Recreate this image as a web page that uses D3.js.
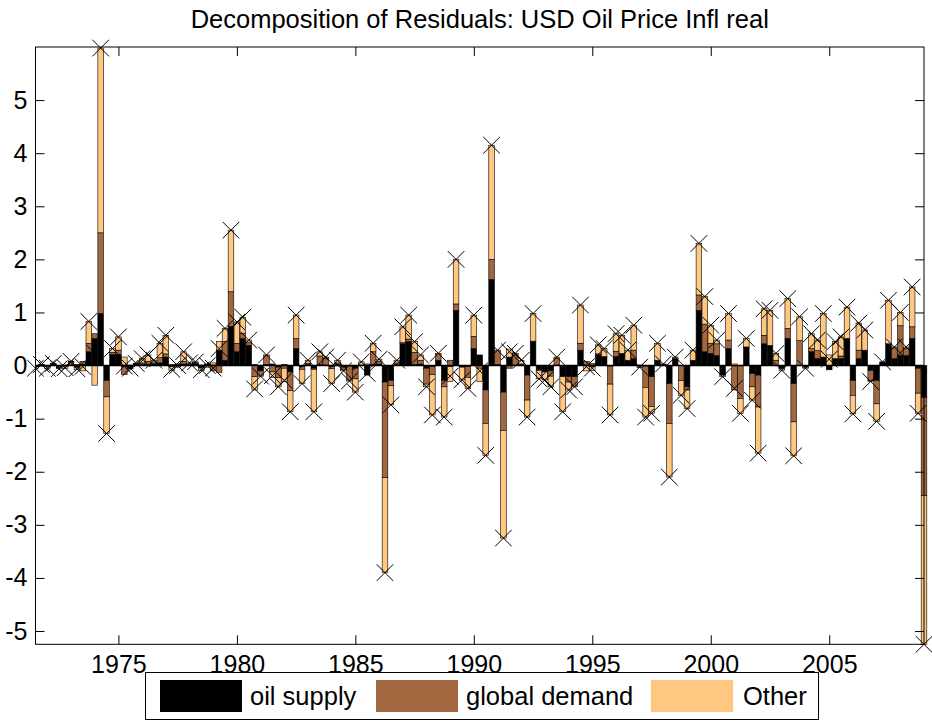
<!DOCTYPE html>
<html><head><meta charset="utf-8">
<script src="https://cdn.jsdelivr.net/npm/d3@7"></script>
<style>
body{margin:0;background:#fff}
svg{display:block}
text{font-family:"Liberation Sans",Arial,Helvetica,sans-serif;fill:#000}
</style>
</head><body>
<svg id="chart" width="932" height="722"></svg>
<script>
// ---------------- DATA ----------------
const chartTitle = "Decomposition of Residuals: USD Oil Price Infl real";
const seriesNames = ["oil supply", "global demand", "Other"];
const firstQuarter = 1971.5;   // first observation (year + quarter/4)
const lastQuarter = 2009.0;    // last observation
const xTickLabels = [1975, 1980, 1985, 1990, 1995, 2000, 2005];
const yTickLabels = [-5, -4, -3, -2, -1, 0, 1, 2, 3, 4, 5];
const yLimits = [-5.25, 6];

const oilSupply = [
 0, 0.01, -0.02, 0.02, -0.02, 0.01, 0.01, -0.03, 0.02, 0.26,
 0.51, 0.98, -0.28, 0.21, 0.21, -0.02, -0.06, 0.01, 0.02, 0.02,
 0.03, 0.05, 0.16, -0.02, 0.02, 0.03, 0.02, 0.03, -0.04, 0.02,
 0.01, 0.29, 0.1, 0.74, 0.26, 0.51, 0.38, 0.02, -0.1, 0.02,
 0.03, -0.03, 0.02, -0.12, 0.32, -0.02, 0.02, -0.05, 0.02, 0.01,
 -0.02, 0.02, -0.03, -0.01, -0.05, 0.01, -0.18, 0.02, 0.03, -0.31,
 -0.28, 0.02, 0.41, 0.45, 0.02, 0.03, -0.05, -0.02, 0.1, -0.28,
 -0.02, 1.04, -0.03, -0.02, 0.32, 0.2, -0.46, 1.62, 0.02, -0.5,
 0.16, 0.01, 0.01, -0.18, 0.45, -0.09, -0.12, -0.1, 0.01, -0.21,
 -0.21, -0.21, 0.29, 0.01, -0.02, 0.2, 0.17, -0.01, 0.17, 0.23,
 0.1, 0.13, 0.01, -0.01, -0.21, 0.1, 0.02, -0.34, 0.13, 0,
 -0.4, 0.1, 1.04, 0.26, 0.23, 0.19, -0.18, 0.32, 0, 0,
 0.35, -0.15, -0.18, 0.41, 0.38, 0, -0.06, 0.51, -0.34, 0,
 -0.03, 0.26, 0.13, 0.16, -0.08, 0.13, 0.13, 0.51, -0.28, 0.13,
 0.29, -0.09, -0.28, 0.07, 0.41, 0.13, 0.19, 0.19, 0.51, -0.05,
 -0.6
];
const globalDemand = [
 -0.02, 0.01, 0, 0.01, -0.02, -0.01, 0.06, 0.02, 0.06, 0.16,
 0.09, 1.52, -0.31, 0.04, 0.08, -0.15, 0.01, 0.02, 0.03, 0.06,
 0.02, 0.1, 0.06, 0.02, -0.03, 0.05, 0.03, 0.02, 0.01, 0.01,
 -0.1, -0.13, 0.35, 0.65, 0.16, 0.1, 0.05, -0.21, -0.1, 0.18,
 -0.12, -0.2, -0.05, -0.35, 0.19, -0.05, 0.02, -0.02, 0.16, 0.13,
 -0.04, 0.03, -0.04, -0.28, -0.2, 0, 0.01, 0.24, 0.05, -1.8,
 -0.1, 0.03, 0.02, 0.05, 0.23, 0.07, -0.3, -0.15, 0.13, -0.12,
 0.1, 0.12, 0, -0.2, 0.23, -0.05, -0.63, 0.38, 0.27, -0.72,
 -0.05, 0.19, 0.02, -0.47, 0.01, 0, 0, -0.1, 0.12, 0,
 -0.1, -0.19, 0.13, 0.07, 0.04, 0.02, 0, -0.34, 0.1, 0,
 0, 0.16, -0.04, -0.4, -0.56, 0, 0, -0.75, 0, -0.28,
 -0.06, 0, 0.29, 0.52, 0.19, 0.22, 0, 0.16, -0.46, -0.62,
 0, -0.25, -0.6, 0.16, 0, 0.1, 0, 0.19, -0.72, 0.47,
 0, 0.06, 0.15, 0, 0, 0, 0.05, 0, -0.28, 0.16,
 0, -0.19, -0.44, 0, 0, 0.22, 0.56, 0.13, 0.22, -0.47,
 -1.85
];
const otherShocks = [
 -0.03, 0, -0.03, 0.01, -0.02, -0.04, 0.01, -0.05, -0.1, 0.41,
 -0.37, 3.48, -0.69, 0.07, 0.25, 0.16, 0, 0.01, 0.08, 0.12,
 0.05, 0.27, 0.35, -0.07, 0.01, 0.18, 0, 0.02, -0.05, -0.03,
 0.04, 0.16, 0.25, 1.16, 0.4, 0.3, 0.05, -0.25, 0, 0,
 -0.1, -0.17, -0.25, -0.4, 0.44, -0.27, 0.06, -0.8, 0.08, 0.02,
 -0.28, 0.05, -0.03, 0, -0.25, 0.06, 0.02, 0.16, 0.04, -1.79,
 -0.36, 0.05, 0.3, 0.45, 0.2, 0.1, -0.05, -0.76, 0, -0.57,
 -0.28, 0.84, -0.24, -0.21, 0.4, -0.25, -0.6, 2.15, 0, -2.03,
 0.15, 0.03, 0.07, -0.32, 0.52, -0.16, -0.15, -0.2, 0.03, -0.66,
 -0.15, 0, 0.72, -0.1, -0.07, 0.17, 0.15, -0.58, 0.33, 0.34,
 0.19, 0.47, 0, -0.56, -0.13, 0.32, 0.01, -1.01, 0.03, -0.28,
 -0.35, 0.19, 0.97, 0.52, 0.34, 0.07, -0.03, 0.5, 0.03, -0.28,
 0.16, -0.25, -0.87, 0.5, 0.66, 0.13, -0.03, 0.56, -0.64, 0.45,
 -0.02, 0.28, 0.2, 0.82, 0.2, 0.32, 0.36, 0.59, -0.35, 0.51,
 0.38, -0.02, -0.33, 0, 0.82, 0, 0.25, 0.03, 0.75, -0.38,
 -2.8
];
const seriesColors = ["#000000", "#A3673F", "#FFC77F"];

// ---------------- LAYOUT ----------------
const plot = {left: 35.5, right: 924, top: 47, bottom: 644.3};
const svg = d3.select("#chart");

const nObs = oilSupply.length;
const dates = d3.range(nObs).map(i => firstQuarter + i * 0.25);
const series = [oilSupply, globalDemand, otherShocks];

const x = d3.scaleLinear().domain([firstQuarter, lastQuarter]).range([plot.left, plot.right]);
const y = d3.scaleLinear().domain(yLimits).range([plot.bottom, plot.top]);

const step = x(firstQuarter + 0.25) - x(firstQuarter);
const barW = step * 0.95;

svg.append("defs").append("clipPath").attr("id", "clip")
  .append("rect").attr("x", plot.left).attr("y", plot.top - 1)
  .attr("width", plot.right - plot.left + 4).attr("height", plot.bottom - plot.top + 2);

// stacked segments (positives up, negatives down)
const segs = [];
const totals = [];
dates.forEach((d, i) => {
  let pos = 0, neg = 0, tot = 0;
  series.forEach((s, k) => {
    const v = s[i];
    tot += v;
    if (v >= 0) { segs.push({d, k, y0: pos, y1: pos + v}); pos += v; }
    else { segs.push({d, k, y0: neg + v, y1: neg}); neg += v; }
  });
  totals.push({d, v: tot});
});

const g = svg.append("g").attr("clip-path", "url(#clip)");
g.selectAll("rect.bar").data(segs.filter(s => Math.abs(s.y1 - s.y0) > 1e-9)).join("rect")
  .attr("class", "bar")
  .attr("x", s => x(s.d) - barW / 2)
  .attr("width", barW)
  .attr("y", s => y(s.y1))
  .attr("height", s => y(s.y0) - y(s.y1))
  .attr("fill", s => seriesColors[s.k])
  .attr("stroke", "#000").attr("stroke-width", 0.6);

// baseline
svg.append("line").attr("x1", plot.left).attr("x2", plot.right)
  .attr("y1", y(0)).attr("y2", y(0)).attr("stroke", "#000").attr("stroke-width", 1.5);

// X markers at totals
const ms = 8.3;
const mk = svg.append("g").attr("stroke", "#000").attr("stroke-width", 1).attr("fill", "none");
mk.selectAll("path").data(totals).join("path")
  .attr("d", t => {
    const cx = x(t.d), cy = y(t.v);
    return `M${cx - ms},${cy - ms}L${cx + ms},${cy + ms}M${cx - ms},${cy + ms}L${cx + ms},${cy - ms}`;
  });

// axes box
svg.append("rect").attr("x", plot.left).attr("y", plot.top)
  .attr("width", plot.right - plot.left).attr("height", plot.bottom - plot.top)
  .attr("fill", "none").attr("stroke", "#000").attr("stroke-width", 1);

const tickLen = 9;
const fs = 25;
const fmt = d => String(d);   // plain hyphen-minus like the reference
const axB = svg.append("g").attr("transform", `translate(0,${plot.bottom})`)
  .call(d3.axisBottom(x).tickValues(xTickLabels).tickFormat(fmt)
    .tickSizeInner(-tickLen).tickSizeOuter(0).tickPadding(11));
const axT = svg.append("g").attr("transform", `translate(0,${plot.top})`)
  .call(d3.axisTop(x).tickValues(xTickLabels).tickFormat("")
    .tickSizeInner(-tickLen).tickSizeOuter(0));
const axL = svg.append("g").attr("transform", `translate(${plot.left},0)`)
  .call(d3.axisLeft(y).tickValues(yTickLabels).tickFormat(fmt)
    .tickSizeInner(-tickLen).tickSizeOuter(0).tickPadding(8));
const axR = svg.append("g").attr("transform", `translate(${plot.right},0)`)
  .call(d3.axisRight(y).tickValues(yTickLabels).tickFormat("")
    .tickSizeInner(-tickLen).tickSizeOuter(0));
[axB, axT, axL, axR].forEach(a => {
  a.select(".domain").remove();
  a.selectAll("line").attr("stroke", "#000").attr("stroke-width", 1);
  a.selectAll("text").attr("font-size", fs).attr("font-family", null);
});

// title
svg.append("text").attr("x", (plot.left + plot.right) / 2).attr("y", 28)
  .attr("text-anchor", "middle").attr("font-size", 25.5).text(chartTitle);

// legend
const lg = svg.append("g");
lg.append("rect").attr("x", 145.5).attr("y", 672.5).attr("width", 673).attr("height", 47)
  .attr("fill", "none").attr("stroke", "#000").attr("stroke-width", 1);
const legendPos = [{sx: 160, tx: 250}, {sx: 376, tx: 466}, {sx: 651, tx: 743}];
legendPos.forEach((it, k) => {
  lg.append("rect").attr("x", it.sx).attr("y", 680).attr("width", 82).attr("height", 32)
    .attr("fill", seriesColors[k]);
  lg.append("text").attr("x", it.tx).attr("y", 705).attr("font-size", 25.5).text(seriesNames[k]);
});
</script>
</body></html>
